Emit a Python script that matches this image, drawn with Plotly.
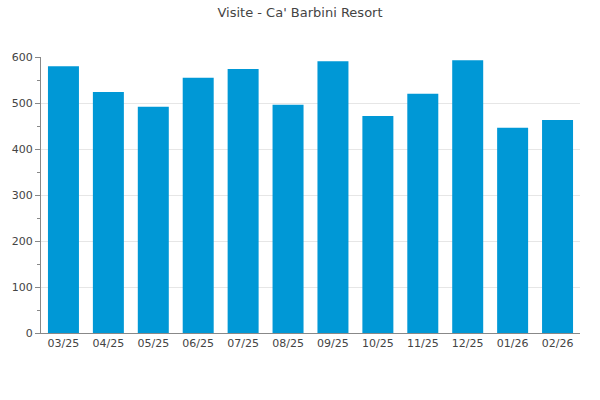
import plotly.graph_objects as go

months = ["03/25", "04/25", "05/25", "06/25", "07/25", "08/25",
          "09/25", "10/25", "11/25", "12/25", "01/26", "02/26"]
visits = [580, 524, 492, 555, 574, 496, 591, 472, 520, 593, 446, 463]
y_ticks = [0, 100, 200, 300, 400, 500, 600]

fig = go.Figure(go.Bar(x=months, y=visits, marker_color="#0098d6",
                       marker_line_width=0, hoverinfo="x+y"))

fig.update_layout(
    width=600, height=400,
    margin=dict(l=41, r=20, t=57, b=67, autoexpand=False),
    title=dict(text="Visite - Ca' Barbini Resort", x=0.5, y=1 - 12 / 400, xanchor="center",
               yanchor="middle", xref="container", yref="container",
               font=dict(family="DejaVu Sans", size=13, color="#444")),
    font=dict(family="DejaVu Sans", size=11, color="#444"),
    plot_bgcolor="white", paper_bgcolor="white",
    bargap=0.31,
    showlegend=False,
)
fig.update_xaxes(showline=True, linecolor="#888", linewidth=1, ticks="",
                 showgrid=False, automargin=False, tickfont=dict(size=11, color="#444"))
fig.update_yaxes(range=[0, 600], tickvals=y_ticks, showline=True, linecolor="#888",
                 linewidth=1, ticks="outside", ticklen=5, tickcolor="#888",
                 showgrid=True, gridcolor="#e6e6e6", zeroline=False, automargin=False,
                 minor=dict(dtick=50, ticks="outside", ticklen=3, tickcolor="#888", showgrid=False),
                 tickfont=dict(size=11, color="#444"))

fig.write_html("out.html", config={"displayModeBar": False},
               post_script="document.body.style.margin='0';")
